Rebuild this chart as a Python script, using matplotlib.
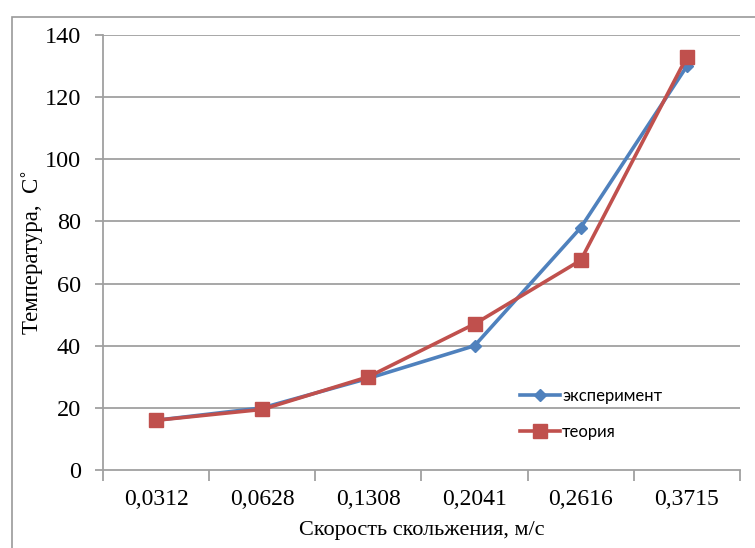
import matplotlib
matplotlib.use("Agg")
import matplotlib.pyplot as plt
from matplotlib.patches import Rectangle

# Data
speeds = ["0,0312", "0,0628", "0,1308", "0,2041", "0,2616", "0,3715"]
experiment = [16, 20, 29.5, 40, 78, 130]
theory = [16, 19.5, 30, 47, 67.5, 133]
yticks = [0, 20, 40, 60, 80, 100, 120, 140]

W, H = 755, 548
fig = plt.figure(figsize=(W / 100, H / 100), dpi=100)
fig.patch.set_facecolor("white")

# outer chart frame
fig.patches.append(Rectangle((12 / W, -0.05), 1.2, 1 - 17 / H + 0.05,
                             transform=fig.transFigure, fill=False,
                             edgecolor="#9a9a9a", linewidth=1.2))

left, right, top, bottom = 103, 740, 35, 470
ax = fig.add_axes([left / W, 1 - bottom / H, (right - left) / W, (bottom - top) / H])

grid_c = "#a0a0a0"
x = list(range(len(speeds)))
ax.plot(x, experiment, color="#4F81BD", linewidth=2.6, marker="D",
        markersize=6.5, label="эксперимент", zorder=3)
ax.plot(x, theory, color="#C0504D", linewidth=2.6, marker="s",
        markersize=10, label="теория", zorder=4)

ax.set_xlim(-0.5, len(speeds) - 0.5)
ax.set_ylim(0, 140)
ax.set_yticks(yticks)
ax.set_yticklabels([str(v) for v in yticks])
ax.set_xticks(x)
ax.set_xticklabels(speeds)
ax.set_xticks([i - 0.5 for i in range(len(speeds) + 1)], minor=True)

for v in yticks[1:]:
    ax.axhline(v, color=grid_c, linewidth=1.3, zorder=1)

for s in ["top", "right"]:
    ax.spines[s].set_visible(False)
for s in ["left", "bottom"]:
    ax.spines[s].set_color(grid_c)
    ax.spines[s].set_linewidth(1.3)

serif = "Liberation Serif"
ax.tick_params(axis="y", length=6, width=1.3, color=grid_c, pad=10,
               labelsize=17.5, labelfontfamily=serif)
ax.tick_params(axis="x", which="major", length=0, pad=14,
               labelsize=17, labelfontfamily=serif)
ax.tick_params(axis="x", which="minor", length=8, width=1.3, color=grid_c)

fig.text(421.5 / W, 1 - 530 / H, "Скорость скольжения, м/с",
         ha="center", va="center", fontsize=16, family=serif)
fig.text(32 / W, 1 - 252 / H, "Температура,  С˚", rotation=90,
         ha="center", va="center", fontsize=16.5, family=serif)

ax.legend(loc="center left", bbox_to_anchor=(512 / W, 1 - 414 / H),
          bbox_transform=fig.transFigure, frameon=False,
          prop={"family": "Lato", "size": 12}, handlelength=2.4,
          handletextpad=0.1, labelspacing=1.2, borderpad=0)

fig.savefig("out.png", dpi=100, facecolor="white")
